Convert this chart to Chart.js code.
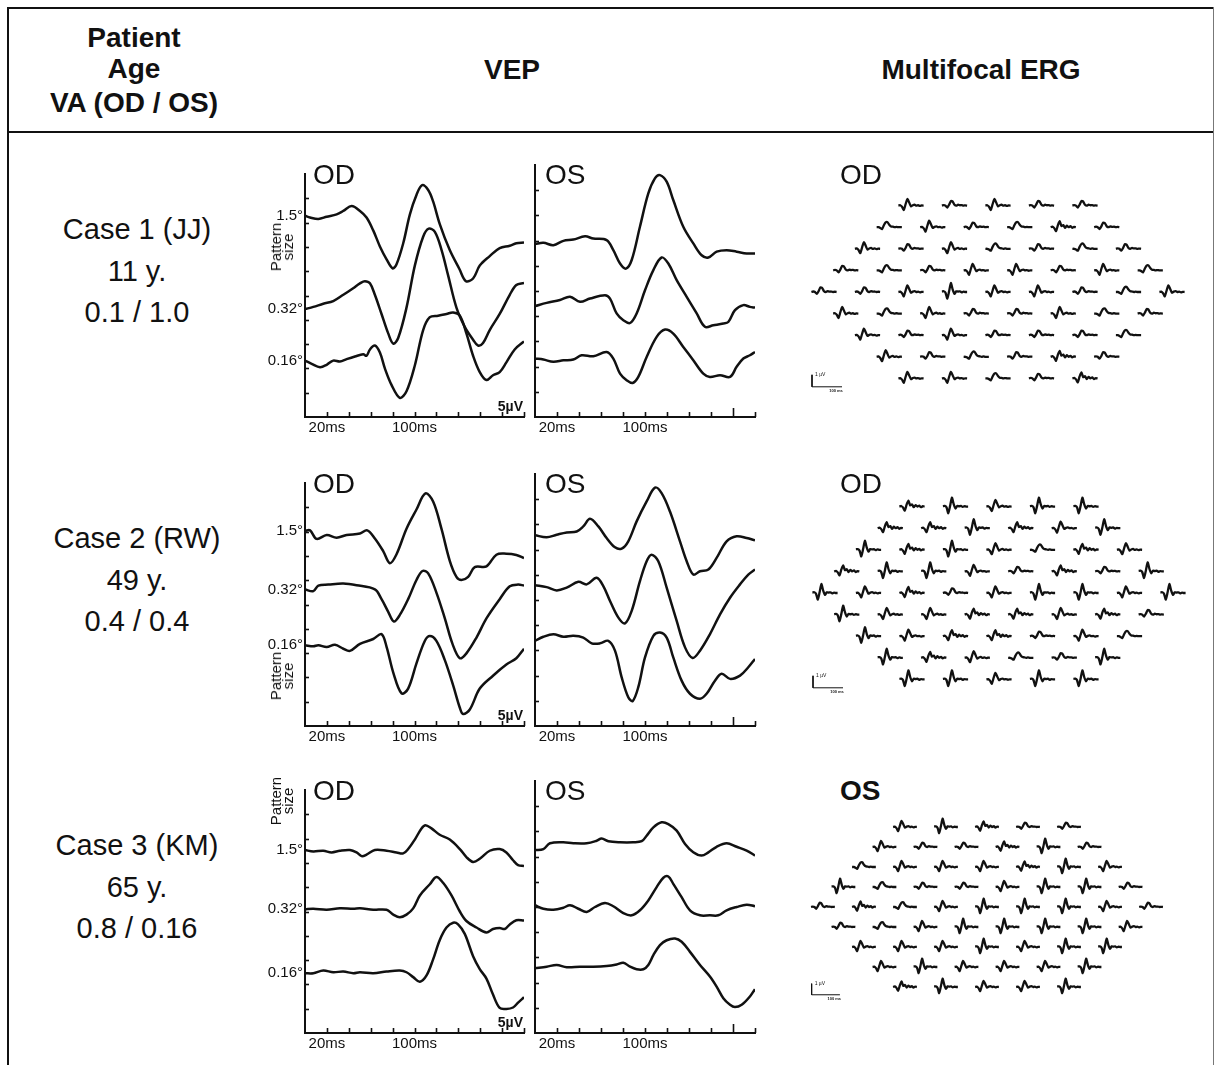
<!DOCTYPE html>
<html>
<head>
<meta charset="utf-8">
<script src="https://cdn.jsdelivr.net/npm/chart.js@4.4.1/dist/chart.umd.min.js"></script>
<style>
  body { margin: 0; background: #fff; }
  #page { position: relative; width: 1216px; height: 1065px; overflow: hidden; font-family: "Liberation Sans", Arial, sans-serif; color: #111; }
  .t { position: absolute; line-height: 1; white-space: nowrap; }
  .rule { position: absolute; background: #111; }
</style>
</head>
<body>
<div id="page"></div>
<script>
// ---- table text ----
const headPatient = ['Patient', 'Age', 'VA (OD / OS)'];
const headVep = 'VEP';
const headErg = 'Multifocal ERG';
const caseNames = ['Case 1 (JJ)', 'Case 2 (RW)', 'Case 3 (KM)'];
const caseAges = ['11 y.', '49 y.', '65 y.'];
const caseVA = ['0.1 / 1.0', '0.4 / 0.4', '0.8 / 0.16'];
const ergEyes = ['OD', 'OD', 'OS'];

// ---- VEP axes (x in ms, y in screen divisions) ----
const msTickMarks = [20, 40, 60, 80, 100, 120, 140, 160, 180, 200];
const msLabelTicks = [20, 100];
const msLabelText = ['20ms', '100ms'];
const divTicks = [1, 2, 3, 4, 5, 6, 7, 8, 9];
const stimMarkMs = 180;
const patternSizes = ['1.5°', '0.32°', '0.16°'];

// ---- VEP traces: [ms, division] ----
const c1_od_15 = [[0,8.28],[4.6,8.21],[12.2,8.15],[19.8,8.24],[28.9,8.34],[35,8.48],[42.6,8.68],[50.2,8.48],[56.2,8.21],[62.3,7.68],[68.4,7.02],[74.5,6.49],[80,6.12],[83.6,6.29],[89.7,7.15],[95.8,8.34],[101.8,9.14],[107,9.54],[112.5,9.34],[117,8.87],[123,7.95],[132,6.89],[141,6.09],[147,5.59],[153.5,5.7],[159.6,6.23],[168.7,6.62],[177.8,6.95],[187,7.05],[193,7.15],[200,7.18]];
const c1_od_032 = [[0,4.44],[7.6,4.53],[16.7,4.66],[25.8,4.77],[35,5.03],[44,5.3],[50.2,5.5],[54.7,5.59],[59.3,5.5],[63.8,5.03],[69.9,4.24],[76,3.44],[80.6,3.02],[85.1,3.25],[92.7,4.5],[100.3,6.23],[107.9,7.42],[113,7.75],[118.6,7.62],[124.6,6.89],[130.7,5.83],[138.3,4.5],[145.9,3.71],[153.5,3.18],[158,2.94],[162.6,3.05],[168.7,3.58],[177.8,4.24],[187,5.03],[193,5.43],[200,5.52]];
const c1_od_016 = [[0,2.32],[6.1,2.19],[13.7,2.05],[19.8,2.15],[25.8,2.32],[31.9,2.28],[38,2.38],[45.6,2.49],[53.2,2.58],[56.2,2.52],[59.3,2.78],[63.8,2.94],[68.4,2.65],[73,1.99],[79,1.32],[86.6,0.79],[92.7,1.06],[100.3,2.12],[107.9,3.58],[114,4.11],[121.6,4.17],[129.2,4.24],[135.3,4.3],[141.4,4.17],[147.4,3.44],[153.5,2.52],[159.6,1.85],[165.7,1.52],[171.7,1.72],[177.8,1.85],[183.9,2.25],[191.5,2.78],[200,3.11]];
const c1_os_15 = [[0,6.86],[7.6,6.91],[16.7,6.82],[25.8,6.99],[34.8,7.04],[45.5,7.17],[53,7.08],[65.1,7.02],[71.2,6.62],[77.3,6.09],[82.7,5.89],[87.9,6.23],[95.4,7.55],[103,8.87],[109,9.47],[113.6,9.6],[119.7,9.34],[125.7,8.61],[134.8,7.55],[143.9,6.89],[151.5,6.42],[157.6,6.33],[165.1,6.56],[174.2,6.62],[183.3,6.56],[192.4,6.49],[200,6.49]];
const c1_os_032 = [[0,4.4],[10.6,4.53],[22.7,4.64],[31.8,4.77],[40.9,4.57],[50,4.7],[63.6,4.83],[68.2,4.7],[74.2,4.11],[80.3,3.84],[86.4,3.73],[92.4,4.11],[100,5.03],[107.6,5.83],[115.1,6.33],[121.2,6.09],[128.8,5.43],[137.9,4.77],[147,4.11],[154.5,3.58],[162.1,3.64],[171.2,3.71],[175.7,3.77],[181.8,4.24],[189.4,4.44],[195.4,4.37],[200,4.34]];
const c1_os_016 = [[0,2.32],[7.6,2.28],[16.7,2.19],[25.8,2.25],[34.8,2.28],[42.4,2.45],[53,2.41],[65.1,2.58],[71.2,2.32],[77.3,1.72],[83.3,1.46],[88.8,1.35],[93.9,1.59],[101.5,2.38],[110.6,3.18],[118.2,3.47],[125.7,3.31],[134.8,2.78],[143.9,2.25],[153,1.72],[159,1.59],[168.2,1.66],[177.3,1.59],[183.3,1.99],[189.4,2.32],[195.4,2.45],[200,2.58]];

const c2_od_15 = [[0,8.03],[4.6,8.05],[10.6,7.7],[19.8,7.86],[28.9,7.75],[38,7.86],[50.2,7.92],[56.8,8.05],[63.8,7.72],[71.4,7.2],[77.5,6.7],[83.6,7.07],[92.7,8.12],[101.8,8.91],[110,9.57],[117,9.24],[124.6,8.12],[132.2,6.8],[138.3,6.14],[142.9,6.01],[149,6.14],[155,6.54],[165.7,6.57],[174.8,7.05],[183.9,7.09],[193,7.04],[200,6.91]];
const c2_od_032 = [[0,5.62],[7.6,5.55],[12.2,5.78],[21.3,5.82],[35,5.86],[47.1,5.79],[63.8,5.62],[69.9,5.22],[76,4.7],[81.2,4.3],[86.6,4.57],[94.2,5.22],[101.8,6.01],[107.3,6.38],[112.5,6.28],[120,5.49],[127.7,4.43],[134.7,3.38],[141.4,2.79],[147.4,2.99],[156.6,3.64],[165.7,4.43],[177.8,5.22],[187,5.75],[194.6,5.82],[200,5.78]];
const c2_od_016 = [[0,3.32],[7.6,3.28],[12.2,3.32],[19.8,3.25],[27.4,3.34],[35,3.18],[41,3.09],[50.2,3.38],[62.3,3.58],[69.9,3.78],[74.5,3.26],[80.6,2.2],[88.2,1.34],[94.2,1.54],[101.8,2.58],[109.4,3.5],[114,3.7],[120,3.5],[127.7,2.71],[135.3,1.67],[141.4,0.75],[144.4,0.49],[150.5,0.68],[159.6,1.54],[171.7,2.07],[183.9,2.53],[193,2.79],[200,3.18]];
const c2_os_15 = [[0,7.57],[10.6,7.49],[19.7,7.59],[28.8,7.68],[37.9,7.72],[43.9,7.92],[50,8.22],[57.6,7.92],[65.1,7.46],[72.7,7.09],[78.8,7.04],[84.8,7.33],[92.4,8.12],[101.5,8.91],[109.1,9.46],[115.1,9.24],[122.7,8.51],[131.8,7.33],[137.9,6.54],[143.9,6.01],[150,6.14],[157.6,6.21],[165.1,6.67],[174.2,7.33],[183.3,7.53],[192.4,7.46],[200,7.37]];
const c2_os_032 = [[0,5.59],[10.6,5.51],[19.7,5.38],[28.8,5.49],[39.4,5.72],[47,5.62],[56,5.88],[62.1,5.55],[68.2,4.96],[75.8,4.3],[81.8,4.07],[87.9,4.57],[95.4,5.75],[101.5,6.54],[106,6.8],[112.1,6.54],[119.7,5.49],[128.8,4.17],[136.4,3.12],[143.3,2.7],[150,2.99],[159,3.64],[168.2,4.43],[177.3,5.09],[186.4,5.62],[193.9,6.01],[200,6.21]];
const c2_os_016 = [[0,3.38],[7.6,3.54],[16.7,3.64],[25.8,3.54],[34.8,3.58],[43.9,3.51],[51.5,3.28],[59.1,3.28],[66.7,3.38],[72.7,2.99],[78.8,1.93],[84.8,1.14],[88.8,0.99],[93.9,1.54],[100,2.72],[107.6,3.58],[113.6,3.71],[119.7,3.51],[125.7,2.72],[133.3,1.8],[140.9,1.28],[150,1.08],[156,1.28],[163.6,1.8],[169.7,2.07],[177.3,1.87],[186.4,2],[193.9,2.33],[200,2.66]];

const c3_od_15 = [[0,7.53],[7.6,7.47],[16.7,7.5],[24.3,7.43],[31.9,7.5],[41,7.53],[47.1,7.43],[51.7,7.28],[56.2,7.34],[63.8,7.53],[74.5,7.5],[83.6,7.43],[89.7,7.39],[94.2,7.57],[100.3,7.96],[106.4,8.42],[110,8.55],[115.5,8.42],[123,8.16],[132.2,7.96],[141.4,7.57],[147.4,7.24],[153.5,7.04],[159.6,7.17],[168.7,7.5],[177.8,7.57],[183.9,7.43],[190,7.11],[194.6,6.91],[200,6.87]];
const c3_od_032 = [[0,5.09],[7.6,5.11],[19.8,5.07],[31.9,5.13],[44.1,5.11],[50.2,5.13],[62.3,5.07],[74.5,5.07],[80.6,4.87],[86.6,4.76],[92.7,4.87],[98.8,5.13],[104.9,5.66],[114,6.12],[120,6.42],[126.1,6.18],[133.8,5.66],[141.4,5],[147.4,4.61],[156.6,4.34],[165.7,4.14],[171.7,4.28],[177.8,4.32],[182.4,4.28],[187,4.47],[193,4.64],[200,4.63]];
const c3_od_016 = [[0,2.46],[7.6,2.46],[16.7,2.57],[25.8,2.5],[35,2.53],[44.1,2.46],[50.2,2.5],[62.3,2.46],[74.5,2.53],[86.6,2.57],[92.7,2.5],[98.8,2.3],[104.9,2.11],[111,2.37],[117,3.03],[123,3.82],[129.2,4.34],[135.3,4.54],[139.8,4.47],[145.9,4.08],[153.5,3.16],[159.6,2.63],[165.7,2.24],[171.7,1.58],[177.8,1.03],[183.9,0.99],[190,1.05],[194.6,1.25],[200,1.47]];
const c3_os_15 = [[0,7.26],[7.6,7.3],[13.6,7.53],[25.8,7.57],[34.8,7.53],[47,7.53],[56,7.63],[60.6,7.72],[66.7,7.61],[77.3,7.57],[89.4,7.57],[97,7.61],[101.5,7.83],[107.6,8.16],[115.1,8.36],[121.2,8.29],[128.8,8.03],[136.4,7.5],[143.9,7.17],[151.5,7.04],[157.6,7.17],[165.1,7.39],[174.2,7.53],[183.3,7.39],[192.4,7.24],[200,7.04]];
const c3_os_032 = [[0,5.07],[7.6,4.93],[16.7,4.89],[25.8,4.97],[31.8,5.07],[39.4,4.93],[47,4.8],[54.5,5],[63.6,5.16],[71.2,5.03],[80.3,4.76],[87.9,4.67],[95.4,4.87],[103,5.26],[110.6,5.79],[116.7,6.16],[121.2,6.21],[125.7,5.92],[133.3,5.39],[140.9,4.87],[150,4.67],[159,4.67],[166.6,4.67],[174.2,4.87],[183.3,5],[192.4,5.09],[200,5.03]];
const c3_os_016 = [[0,2.57],[10.6,2.63],[19.7,2.7],[28.8,2.61],[40.9,2.63],[53,2.63],[65.1,2.66],[74.2,2.72],[80.3,2.79],[86.4,2.63],[92.4,2.53],[98.5,2.53],[103,2.7],[107.6,3.09],[113.6,3.49],[119.7,3.68],[127.3,3.75],[133.3,3.62],[140.9,3.22],[150,2.7],[159,2.24],[165.1,1.84],[171.2,1.38],[177.3,1.12],[181.8,1.03],[187.9,1.12],[195.4,1.45],[200,1.74]];

// ---- multifocal ERG: hexagon of 61 responses ----
const hexRowCounts = [5, 6, 7, 8, 9, 8, 7, 6, 5];
const ergTimes = [0, 6, 12, 18, 24, 30, 36, 42, 48, 54, 60, 66, 72, 78, 84];
// typical response shapes (µV)
const ergWaves = [
  [0, 0.03, -0.1, -0.36, 0.12, 0.55, 0.25, -0.06, 0.03, 0.07, 0, 0.03, -0.03, 0.01, 0],
  [0, 0.04, 0, -0.16, 0.07, 0.38, 0.33, 0.07, 0, 0.07, 0.03, 0.04, 0, 0.02, 0],
  [0.04, 0.06, -0.06, -0.55, 0.06, 0.75, 0.2, -0.16, 0.06, 0.03, 0.06, -0.03, 0.03, 0, 0],
  [0, 0, -0.06, -0.16, 0.16, 0.4, 0.42, 0.2, 0.06, 0.04, 0, 0.03, 0, 0, 0],
  [0, 0.05, -0.08, -0.33, 0.16, 0.5, 0.1, 0.18, -0.05, 0.13, 0, 0.08, -0.05, 0.03, 0]
];
const erg1Shapes = ['01011', '301341', '0103131', '13100103', '110200130', '03011031', '0101113', '013141', '00314'];
const erg2Shapes = ['42022', '442402', '2420340', '42201412', '204102202', '20044041', '2044103', '240312', '22022'];
const erg3Shapes = ['02411', '011421', '3000420', '23110221', '143022201', '13022220', '0002022', '020002', '42002'];
const scaleBarUv = 1;
const scaleBarMs = 100;

// ---- layout ----
const page = document.getElementById('page');
const FONT = '"Liberation Sans", Arial, sans-serif';
const INK = '#111';
const hexStepMs = 145, hexStepUv = 1.8;

function text(str, x, base, size, align, weight) {
  const d = document.createElement('div');
  d.className = 't';
  d.textContent = str;
  d.style.fontSize = size + 'px';
  d.style.fontWeight = weight || 'normal';
  d.style.left = x + 'px';
  d.style.top = (base - 0.8465 * size) + 'px';
  if (align === 'center') d.style.transform = 'translateX(-50%)';
  if (align === 'right') d.style.transform = 'translateX(-100%)';
  page.appendChild(d);
}

function rule(l, t, w, h, color) {
  const d = document.createElement('div');
  d.className = 'rule';
  d.style.cssText = `left:${l}px;top:${t}px;width:${w}px;height:${h}px;` + (color ? `background:${color}` : '');
  page.appendChild(d);
}

function canvasAt(l, t, w, h) {
  const c = document.createElement('canvas');
  c.width = w; c.height = h;
  c.style.cssText = `position:absolute;left:${l}px;top:${t}px;width:${w}px;height:${h}px`;
  page.appendChild(c);
  return c;
}

// inward tick marks on both axes
const innerTicks = {
  id: 'innerTicks',
  afterDraw(chart, args, opts) {
    const {ctx, chartArea: a, scales: {x, y}} = chart;
    ctx.save();
    ctx.strokeStyle = INK;
    ctx.lineWidth = 1.6;
    msTickMarks.forEach(v => {
      const px = Math.round(x.getPixelForValue(v)) + 0.5;
      const len = (opts.stim && v === stimMarkMs) ? 9 : 5;
      ctx.beginPath(); ctx.moveTo(px, a.bottom); ctx.lineTo(px, a.bottom - len); ctx.stroke();
    });
    divTicks.forEach(v => {
      const py = Math.round(y.getPixelForValue(v)) + 0.5;
      ctx.beginPath(); ctx.moveTo(a.left, py); ctx.lineTo(a.left + 4, py); ctx.stroke();
    });
    ctx.restore();
  }
};

function vepChart(left, axisTop, traces, withLabels) {
  const yWidth = withLabels ? 43 : 0;
  const padL = withLabels ? 0 : 2;
  const w = padL + yWidth + (withLabels ? 219 : 220) + 2;
  const c = canvasAt(left - padL - yWidth, axisTop - 2, w, 2 + 252 + 26);
  const labelVals = traces.map(tr => tr[0][1]);
  return new Chart(c, {
    type: 'line',
    data: {
      datasets: traces.map(tr => ({
        data: tr.map(p => ({x: p[0], y: p[1]})),
        borderColor: INK,
        borderWidth: 2.5,
        pointRadius: 0,
        tension: 0.35,
        fill: false
      }))
    },
    options: {
      responsive: false,
      animation: false,
      devicePixelRatio: 1,
      events: [],
      layout: {padding: {left: padL, right: 2, top: 2, bottom: 0}},
      plugins: {legend: {display: false}, tooltip: {enabled: false}, innerTicks: {stim: !withLabels}},
      scales: {
        x: {
          type: 'linear', min: 0, max: 200,
          afterBuildTicks: s => { s.ticks = msLabelTicks.map(v => ({value: v})); },
          afterFit: s => { s.height = 26; },
          grid: {display: false, drawTicks: false, tickLength: 0},
          border: {display: true, color: INK, width: 2},
          ticks: {autoSkip: false, maxRotation: 0, padding: 2, color: INK,
                  font: {size: 15, family: FONT}, callback: (v, i) => msLabelText[i]}
        },
        y: {
          type: 'linear', min: 0, max: 10,
          afterBuildTicks: s => { s.ticks = labelVals.map(v => ({value: v})); },
          afterFit: s => { s.width = yWidth; },
          grid: {display: false, drawTicks: false, tickLength: 0},
          border: {display: true, color: INK, width: 2},
          ticks: {display: withLabels, autoSkip: false, padding: 2, color: INK,
                  font: {size: 15, family: FONT}, callback: (v, i) => patternSizes[i]}
        }
      }
    },
    plugins: [innerTicks]
  });
}

const scaleBarText = {
  id: 'scaleBarText',
  afterDraw(chart) {
    const {ctx, scales: {x, y}} = chart;
    const bx = -620, by = -7.9;
    ctx.save();
    ctx.fillStyle = INK;
    ctx.font = '5px ' + FONT;
    ctx.textBaseline = 'middle';
    ctx.fillText(scaleBarUv + ' µV', x.getPixelForValue(bx) + 3, y.getPixelForValue(by + scaleBarUv));
    ctx.textAlign = 'center';
    ctx.textBaseline = 'top';
    ctx.font = 'bold 4px ' + FONT;
    ctx.fillText(scaleBarMs + ' ms', x.getPixelForValue(bx + scaleBarMs * 0.8), y.getPixelForValue(by) + 2);
    ctx.restore();
  }
};

function ergChart(cx, cy, pxPerMs, pxPerUv, shapes) {
  const w = Math.round(1400 * pxPerMs), h = Math.round(18 * pxPerUv);
  const c = canvasAt(Math.round(cx - w / 2), Math.round(cy - h / 2), w, h);
  const datasets = [];
  hexRowCounts.forEach((n, r) => {
    for (let j = 0; j < n; j++) {
      const wave = ergWaves[+shapes[r][j]];
      const x0 = (j - (n - 1) / 2) * hexStepMs - 42;
      const y0 = (4 - r) * hexStepUv;
      datasets.push({
        data: ergTimes.map((t, k) => ({x: x0 + t, y: y0 + wave[k]})),
        borderColor: INK, borderWidth: 2.3, pointRadius: 0, tension: 0.2, fill: false
      });
    }
  });
  const bx = -620, by = -7.9;
  datasets.push({
    data: [{x: bx, y: by + scaleBarUv}, {x: bx, y: by}, {x: bx + scaleBarMs, y: by}],
    borderColor: INK, borderWidth: 1, pointRadius: 0, tension: 0, fill: false
  });
  return new Chart(c, {
    type: 'line',
    data: {datasets},
    options: {
      responsive: false, animation: false, devicePixelRatio: 1, events: [],
      layout: {padding: 0},
      plugins: {legend: {display: false}, tooltip: {enabled: false}},
      scales: {
        x: {type: 'linear', min: -700, max: 700, display: false},
        y: {type: 'linear', min: -9, max: 9, display: false}
      }
    },
    plugins: [scaleBarText]
  });
}

// ---- table frame ----
rule(7, 7, 1207, 2);
rule(7, 131, 1207, 2);
rule(7, 7, 2, 1058);
rule(1213, 7, 1, 1058, '#777');

// ---- header ----
text(headPatient[0], 134, 48, 28, 'center', 'bold');
text(headPatient[1], 134, 79, 28, 'center', 'bold');
text(headPatient[2], 134, 113, 28, 'center', 'bold');
text(headVep, 512, 80, 28, 'center', 'bold');
text(headErg, 981, 80, 28, 'center', 'bold');

// ---- case rows ----
const axisTops = [165, 474, 781];
const vepTraces = [
  [[c1_od_15, c1_od_032, c1_od_016], [c1_os_15, c1_os_032, c1_os_016]],
  [[c2_od_15, c2_od_032, c2_od_016], [c2_os_15, c2_os_032, c2_os_016]],
  [[c3_od_15, c3_od_032, c3_od_016], [c3_os_15, c3_os_032, c3_os_016]]
];
const ergCenters = [[998, 292, 0.3, 12], [999, 593, 0.3, 12], [987, 907, 0.283, 11.1]];
const ergShapes = [erg1Shapes, erg2Shapes, erg3Shapes];
const patternLabelY = [82, 202, 20];

axisTops.forEach((top, i) => {
  text(caseNames[i], 137, top + 75, 29, 'center');
  text(caseAges[i], 137, top + 117, 29, 'center');
  text(caseVA[i], 137, top + 158, 29, 'center');

  vepChart(305, top, vepTraces[i][0], true);
  vepChart(535, top, vepTraces[i][1], false);

  text('OD', 313, top + 20, 28, 'left');
  text('OS', 545, top + 20, 28, 'left');
  text('5µV', 523, top + 246, 14, 'right', 'bold');

  const ps = document.createElement('div');
  ps.className = 't';
  ps.style.cssText = `left:282px;top:${top + patternLabelY[i]}px;font-size:15px;line-height:12px;text-align:center;transform:translate(-50%,-50%) rotate(-90deg);`;
  ps.innerHTML = 'Pattern<br>size';
  page.appendChild(ps);

  const e = ergCenters[i];
  ergChart(e[0], e[1], e[2], e[3], ergShapes[i]);
  text(ergEyes[i], 840, top + 20, 28, 'left', i === 2 ? 'bold' : 'normal');
});
</script>
</body>
</html>
